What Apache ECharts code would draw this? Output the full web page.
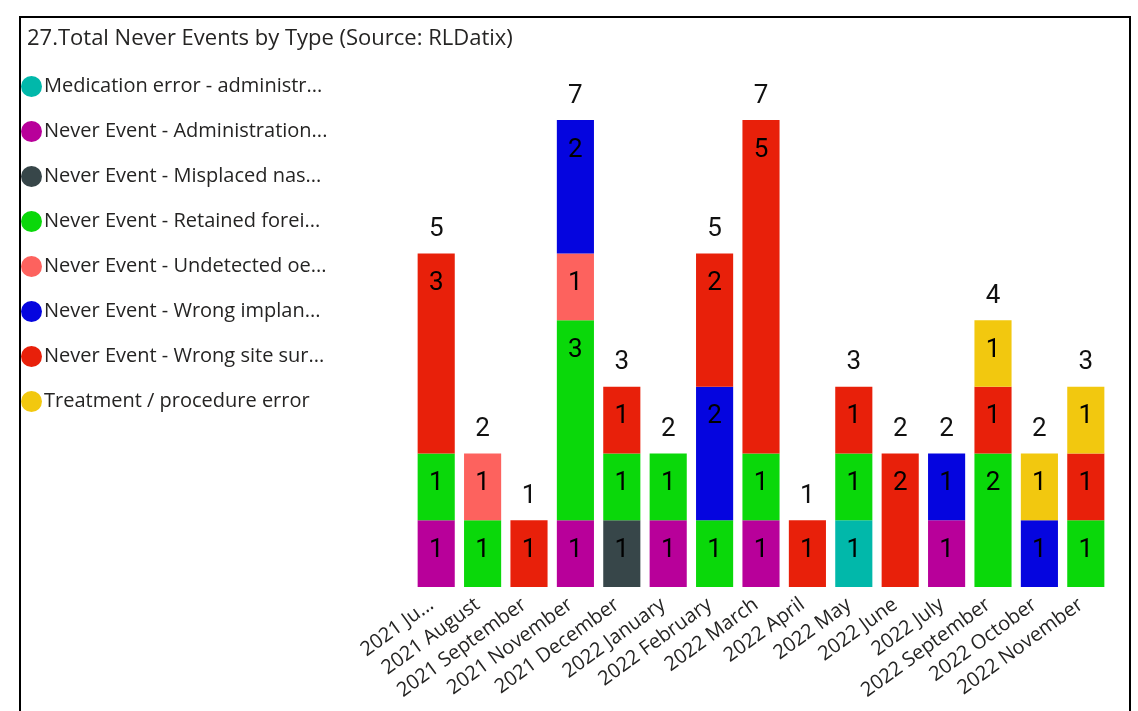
<!DOCTYPE html>
<html>
<head>
<meta charset="utf-8">
<script src="https://cdn.jsdelivr.net/npm/echarts@6/dist/echarts.min.js"></script>
<style>
  html, body { margin: 0; padding: 0; background: #fff; }
  #chart { width: 1138px; height: 711px; }
</style>
</head>
<body>
<div id="chart"></div>
<script>
const months = ['2021 Ju...', '2021 August', '2021 September', '2021 November', '2021 December',
  '2022 January', '2022 February', '2022 March', '2022 April', '2022 May', '2022 June',
  '2022 July', '2022 September', '2022 October', '2022 November'];

const typeNames = [
  'Medication error - administr...',
  'Never Event - Administration...',
  'Never Event - Misplaced nas...',
  'Never Event - Retained forei...',
  'Never Event - Undetected oe...',
  'Never Event - Wrong implan...',
  'Never Event - Wrong site sur...',
  'Treatment / procedure error'
];

const typeColors = ['#01B8AA', '#B8009A', '#374649', '#0AD80A', '#FD625E', '#0505DF', '#E8200A', '#F2C80F'];

// counts per month, null = no events of that type
const medicationError = [null, null, null, null, null, null, null, null, null, 1, null, null, null, null, null];
const administration  = [1, null, null, 1, null, 1, null, 1, null, null, null, 1, null, null, null];
const misplacedNas    = [null, null, null, null, 1, null, null, null, null, null, null, null, null, null, null];
const retainedForeign = [1, 1, null, 3, 1, 1, 1, 1, null, 1, null, null, 2, null, 1];
const undetectedOe    = [null, 1, null, 1, null, null, null, null, null, null, null, null, null, null, null];
const wrongImplant    = [null, null, null, 2, null, null, 2, null, null, null, null, 1, null, 1, null];
const wrongSite       = [3, null, 1, null, 1, null, 2, 5, 1, 1, 2, null, 1, null, 1];
const treatmentError  = [null, null, null, null, null, null, null, null, null, null, null, null, 1, 1, 1];

const seriesData = [medicationError, administration, misplacedNas, retainedForeign,
  undetectedOe, wrongImplant, wrongSite, treatmentError];

const totals = months.map((_, i) => seriesData.reduce((s, arr) => s + (arr[i] || 0), 0));

const FONT = '"Open Sans", "Noto Sans", sans-serif';
const NUM_FONT = 'Roboto, sans-serif';

const chart = echarts.init(document.getElementById('chart'), null, { renderer: 'canvas' });

const series = seriesData.map((data, k) => ({
  name: typeNames[k],
  type: 'bar',
  stack: 'total',
  data,
  barCategoryGap: '20%',
  itemStyle: { color: typeColors[k] },
  label: {
    show: true,
    position: 'insideTop',
    distance: 17,
    color: '#000',
    fontSize: 26,
    fontFamily: NUM_FONT
  }
}));

series.push({
  name: 'Total',
  type: 'bar',
  stack: 'total',
  data: totals.map(() => 0),
  itemStyle: { color: 'transparent' },
  label: {
    show: true,
    position: 'top',
    distance: 11,
    color: '#111',
    fontSize: 26,
    fontFamily: NUM_FONT,
    formatter: (p) => totals[p.dataIndex]
  },
  tooltip: { show: false }
});

chart.setOption({
  backgroundColor: '#fff',
  animation: false,
  title: {
    text: '27.Total Never Events by Type (Source: RLDatix)',
    left: 22,
    top: 23,
    textStyle: { color: '#252423', fontSize: 22, fontWeight: 'normal', fontFamily: FONT }
  },
  legend: {
    data: typeNames,
    orient: 'vertical',
    left: 16,
    top: 71,
    icon: 'circle',
    itemWidth: 21,
    itemHeight: 21,
    itemGap: 24,
    textStyle: { color: '#252423', fontSize: 20, fontFamily: FONT, padding: [0, 0, 0, -3] }
  },
  grid: { left: 413, right: 29, top: 120, bottom: 124 },
  xAxis: {
    type: 'category',
    data: months,
    axisLine: { show: false },
    axisTick: { show: false },
    axisLabel: {
      rotate: 36,
      interval: 0,
      margin: 12,
      padding: [0, 6, 0, 0],
      color: '#252423',
      fontSize: 20,
      fontFamily: FONT
    }
  },
  yAxis: {
    type: 'value',
    min: 0,
    max: 7,
    show: false,
    splitLine: { show: false }
  },
  graphic: [{
    type: 'rect',
    shape: { x: 20, y: 17, width: 1110, height: 720 },
    style: { fill: 'none', stroke: '#000', lineWidth: 2 },
    silent: true
  }],
  series
});
</script>
</body>
</html>
